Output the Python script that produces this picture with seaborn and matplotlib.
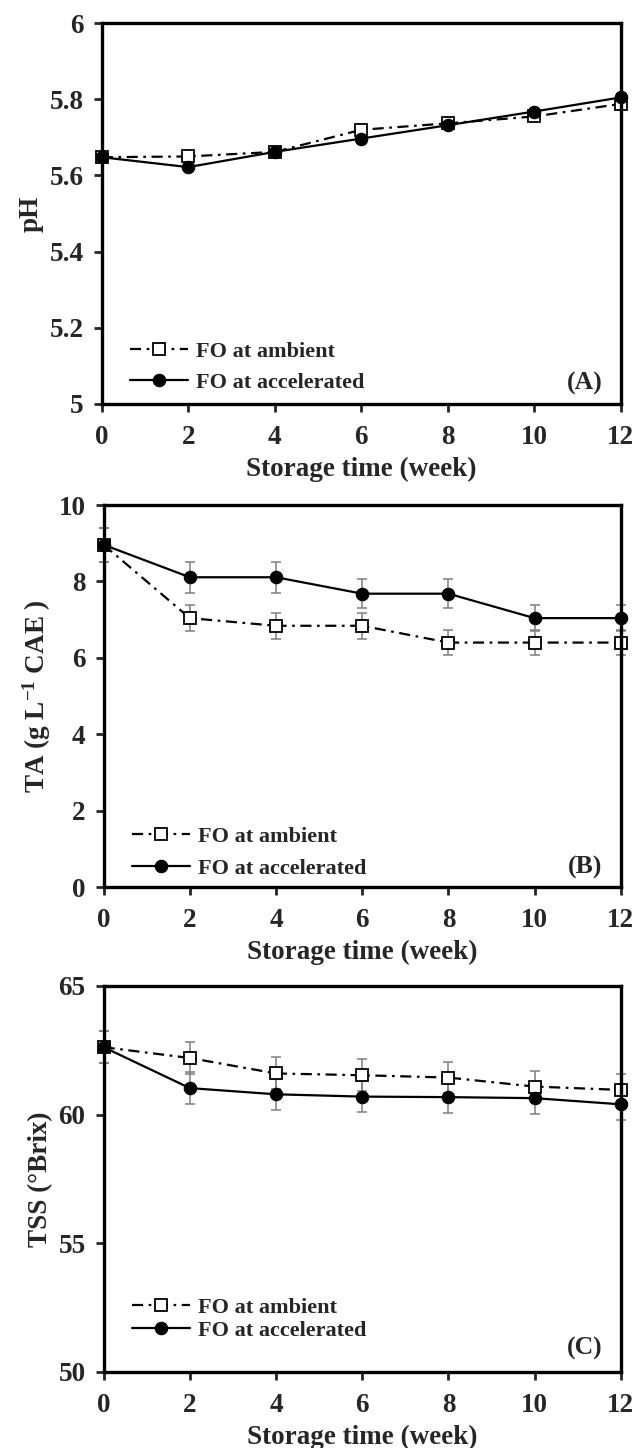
import numpy as np
import pandas as pd
import matplotlib
matplotlib.use("Agg")
import matplotlib.pyplot as plt
from matplotlib.ticker import FuncFormatter
import seaborn as sns

# ---------------- data ----------------
weeks = [0, 2, 4, 6, 8, 10, 12]
series_names = ["FO at ambient", "FO at accelerated"]

ph_ambient = [5.648, 5.650, 5.662, 5.720, 5.737, 5.755, 5.788]
ph_accel = [5.648, 5.622, 5.662, 5.697, 5.732, 5.768, 5.805]

ta_ambient = [8.96, 7.04, 6.84, 6.84, 6.40, 6.40, 6.40]
ta_ambient_err = [0.45, 0.35, 0.34, 0.34, 0.32, 0.32, 0.32]
ta_accel = [8.96, 8.11, 8.11, 7.68, 7.68, 7.04, 7.04]
ta_accel_err = [0.45, 0.41, 0.41, 0.38, 0.38, 0.35, 0.35]

tss_ambient = [62.62, 62.20, 61.60, 61.53, 61.44, 61.09, 60.96]
tss_ambient_err = [0.62, 0.62, 0.62, 0.62, 0.61, 0.61, 0.61]
tss_accel = [62.62, 61.03, 60.79, 60.70, 60.68, 60.64, 60.40]
tss_accel_err = [0.62, 0.61, 0.61, 0.61, 0.61, 0.61, 0.60]

ylabels = ["pH", r"TA (g $\mathregular{L^{-1}}$ CAE )", "TSS (°Brix)"]
panel_tags = ["(A)", "(B)", "(C)"]
xlabel = "Storage time (week)"
ylims = [(5, 6), (0, 10), (50, 65)]
yticks = [[5, 5.2, 5.4, 5.6, 5.8, 6], [0, 2, 4, 6, 8, 10], [50, 55, 60, 65]]

# ---------------- style ----------------
sns.set_theme(style="ticks")
plt.rcParams["font.family"] = ["Liberation Serif", "DejaVu Serif"]
plt.rcParams["font.weight"] = "bold"
plt.rcParams["axes.labelweight"] = "bold"
plt.rcParams["mathtext.fontset"] = "custom"
plt.rcParams["mathtext.rm"] = "Liberation Serif:bold"
plt.rcParams["mathtext.it"] = "Liberation Serif:bold"
plt.rcParams["mathtext.bf"] = "Liberation Serif:bold"

fig = plt.figure(figsize=(6.36, 14.48), dpi=100)
positions = [
    [0.160, 0.721, 0.816, 0.263],
    [0.163, 0.3874, 0.813, 0.2638],
    [0.163, 0.0525, 0.813, 0.2666],
]

amb_ls = (0, (5, 2.5, 1.2, 2.5))
err_color = "#7f7f7f"

panels = [
    (ph_ambient, None, ph_accel, None),
    (ta_ambient, ta_ambient_err, ta_accel, ta_accel_err),
    (tss_ambient, tss_ambient_err, tss_accel, tss_accel_err),
]
legend_mid = [0.097, 0.090, 0.137]
legend_spacing = [0.46, 0.50, 0.08]
tag_y = [0.055, 0.050, 0.062]

for i, (amb, amb_e, acc, acc_e) in enumerate(panels):
    ax = fig.add_axes(positions[i])
    df = pd.DataFrame({"week": weeks, "amb": amb, "acc": acc})
    if amb_e is not None:
        ax.errorbar(weeks, amb, yerr=amb_e, fmt="none", ecolor=err_color,
                    elinewidth=1.1, capsize=3.5, capthick=1.1, zorder=1)
        ax.errorbar(weeks, acc, yerr=acc_e, fmt="none", ecolor=err_color,
                    elinewidth=1.1, capsize=3.5, capthick=1.1, zorder=1)
    sns.lineplot(data=df, x="week", y="amb", ax=ax, color="black",
                 linestyle=amb_ls, linewidth=1.6, marker="s", markersize=8.5,
                 markerfacecolor="white", markeredgecolor="black",
                 markeredgewidth=1.3, label=series_names[0], errorbar=None,
                 zorder=3)
    sns.lineplot(data=df, x="week", y="acc", ax=ax, color="black",
                 linestyle="-", linewidth=1.6, marker="o", markersize=9,
                 markerfacecolor="black", markeredgecolor="black",
                 label=series_names[1], errorbar=None, zorder=4)
    ax.set_xlim(0, 12)
    ax.set_ylim(*ylims[i])
    ax.set_xticks(weeks)
    ax.set_yticks(yticks[i])
    ax.yaxis.set_major_formatter(FuncFormatter(lambda v, p: f"{v:g}"))
    ax.tick_params(axis="both", direction="out", length=6, width=2,
                   labelsize=19.5, top=False, right=False)
    ax.tick_params(axis="y", pad=7)
    ax.tick_params(axis="x", pad=9)
    for t in ax.get_xticklabels() + ax.get_yticklabels():
        t.set_fontweight("bold")
    for s in ax.spines.values():
        s.set_visible(True)
        s.set_linewidth(2.4)
        s.set_color("black")
    ax.set_xlabel(xlabel, fontsize=19.5, fontweight="bold", labelpad=5)
    ax.set_ylabel(ylabels[i], fontsize=19.5, fontweight="bold", labelpad=4)
    ax.grid(False)
    leg = ax.legend(loc="center left", bbox_to_anchor=(0.055, legend_mid[i]),
                    frameon=False, prop={"size": 16, "weight": "bold"},
                    handlelength=2.6, handletextpad=0.35,
                    labelspacing=legend_spacing[i], borderaxespad=0,
                    borderpad=0)
    ax.text(0.965, tag_y[i], panel_tags[i], transform=ax.transAxes,
            ha="right", va="center", fontsize=18.5, fontweight="bold")
    for sp in ["left", "bottom", "top", "right"]:
        ax.spines[sp].set_zorder(5)
    for line in ax.get_lines():
        line.set_clip_on(False)

fig.savefig("out.png", dpi=100)
